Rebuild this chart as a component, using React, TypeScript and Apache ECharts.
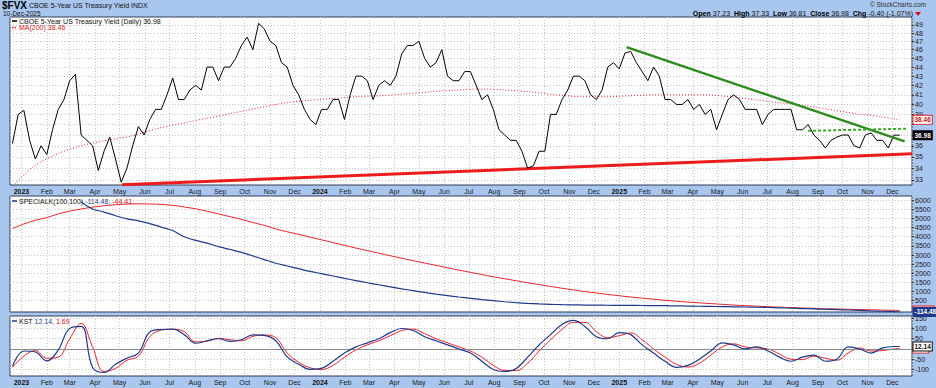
import React, { useEffect, useRef } from "react";
import * as echarts from "echarts";

const DAY = 86400000;
const WEEK_START = "2022-12-21"; // weekly (Wednesday) observations
const X_MIN = "2022-12-18";
const X_MAX = "2025-12-25";

// $FVX weekly readings (x10 yield)
const priceValues = [
  36.2, 39.0,
  39.4, 36.5, 34.8, 36.0, 35.2, 37.5, 39.5, 40.5, 42.5, 43.2, 37.0, 36.5, 36.0, 33.8, 35.5, 36.8, 34.8, 32.8, 34.0, 36.0, 37.8, 37.0, 38.5, 39.5, 39.5, 41.0, 42.8, 40.5, 40.5, 41.5, 42.0, 41.5, 44.0, 44.0, 42.5, 44.0, 44.0, 45.0, 46.5, 47.5, 46.0, 49.2, 48.5, 47.0, 46.5, 44.5, 44.0, 42.0, 41.0, 39.5, 38.5, 38.0,
  39.5, 39.5, 40.5, 40.5, 38.5, 41.0, 43.0, 43.0, 42.5, 40.5, 42.0, 42.5, 42.0, 43.0, 45.5, 46.5, 46.5, 47.0, 45.0, 44.0, 44.5, 46.0, 43.0, 42.5, 42.5, 43.5, 43.5, 42.0, 40.5, 41.0, 39.5, 37.5, 37.0, 36.5, 36.5, 35.5, 34.0, 34.2, 35.5, 35.5, 39.0, 39.0, 40.5, 41.5, 43.0, 43.0, 42.5, 41.0, 40.5, 41.5, 44.0, 44.5,
  43.8, 45.6, 45.8, 44.5, 43.5, 42.5, 44.0, 43.0, 40.5, 40.5, 40.0, 40.0, 40.5, 39.5, 40.0, 39.0, 39.5, 37.5, 39.0, 40.5, 41.0, 40.5, 39.5, 39.5, 39.5, 38.0, 39.0, 39.5, 39.5, 39.5, 39.5, 37.5, 37.5, 38.0, 37.0, 36.5, 35.8, 36.5, 36.8, 37.0, 37.0, 36.0, 35.8, 37.0, 37.2, 36.5, 36.5, 35.8, 37.0, 36.98,
];

const maDates = [
  "2022-12-19", "2023-01-15", "2023-02-15", "2023-03-15", "2023-04-15", "2023-05-15", "2023-06-15", "2023-07-15", "2023-08-15", "2023-09-15", "2023-10-15", "2023-11-15", "2023-12-15",
  "2024-01-15", "2024-02-15", "2024-03-15", "2024-04-15", "2024-05-15", "2024-06-15", "2024-07-15", "2024-08-15", "2024-09-15", "2024-10-15", "2024-11-15", "2024-12-15",
  "2025-01-15", "2025-02-15", "2025-03-15", "2025-04-15", "2025-05-15", "2025-06-15", "2025-07-15", "2025-08-15", "2025-09-15", "2025-10-15", "2025-11-15", "2025-12-10",
];
const maValues = [
  32.3, 34.1, 35.3, 36.0, 36.5, 36.9, 37.6, 38.1, 38.6, 39.1, 39.6, 40.1, 40.4,
  40.6, 40.8, 40.9, 41.1, 41.3, 41.5, 41.6, 41.5, 41.3, 41.0, 40.8, 40.8,
  40.9, 41.0, 41.0, 41.0, 40.8, 40.5, 40.2, 39.9, 39.5, 39.1, 38.8, 38.46,
];

const supportDates = ["2023-05-04", "2025-12-25"];
const supportValues = [32.6, 35.27];
const downtrendDates = ["2025-01-10", "2025-12-16"];
const downtrendValues = [46.3, 36.4];
const resistanceDates = ["2025-08-20", "2025-12-19"];
const resistanceValues = [37.4, 37.6];

// bi-weekly indicator readings (every other week + last day)
const specialK = [
  null, null, null, null, null, null, 5900, 5520, 5350, 5150, 4980, 4870, 4720, 4530, 4340, 4000, 3800, 3650, 3460, 3300,
  3140, 2950, 2750, 2550, 2400, 2250, 2100, 1980, 1850, 1720, 1600, 1480, 1370, 1260, 1150, 1050, 950, 860, 780, 700,
  630, 560, 500, 440, 390, 350, 320, 300, 280, 270, 260, 255, 250, 245, 240, 235, 230, 225, 215, 205,
  195, 185, 175, 165, 155, 140, 125, 110, 90, 70, 50, 30, 10, -10, -35, -60, -80, -100, -114.48,
];
const specialKSignal = [
  4450, 4700, 4900, 5050, 5250, 5400, 5520, 5620, 5700, 5750, 5790, 5800, 5790, 5770, 5720, 5630, 5530, 5400, 5250, 5100,
  4950, 4780, 4620, 4430, 4270, 4130, 3980, 3830, 3680, 3530, 3380, 3240, 3100, 2960, 2820, 2690, 2560, 2430, 2300, 2170,
  2050, 1930, 1810, 1700, 1590, 1480, 1380, 1280, 1180, 1090, 1000, 920, 840, 770, 700, 640, 580, 520, 470, 420,
  380, 340, 300, 260, 230, 200, 170, 145, 120, 100, 80, 60, 45, 30, 15, 0, -15, -30, -44.41,
];
const kst = [
  -85, -10, -15, -58, -5, 100, 110, -90, -115, -75, -45, -20, 83, 95, 97, 70, 28, 40, 50, 37,
  45, 69, 66, 40, -39, -75, -100, -95, -60, -20, 10, 30, 50, 80, 100, 90, 60, 40, 20, 0,
  -20, -60, -100, -110, -95, -40, 20, 70, 120, 140, 110, 60, 50, 80, 70, 20, -20, -60, -90, -80,
  -50, -10, 30, 20, 0, 10, -10, -40, -60, -40, -30, -60, -50, 10, 0, -20, 5, 12, 12.14,
];
const kstSignal = [
  -90, -35, -8, -45, -40, 50, 125, 10, -110, -95, -55, -35, 60, 92, 96, 85, 35, 38, 52, 45,
  40, 62, 68, 55, -20, -65, -92, -100, -80, -40, -5, 20, 40, 65, 90, 97, 75, 50, 30, 10,
  -10, -40, -80, -105, -105, -70, -10, 45, 95, 130, 130, 85, 55, 65, 78, 45, 0, -40, -75, -88,
  -70, -30, 10, 25, 10, 5, 0, -25, -50, -52, -35, -45, -55, -20, 5, -10, -8, 0, 1.69,
];

const priceTicks = [33, 34, 35, 36, 37, 38, 39, 40, 41, 42, 43, 44, 45, 46, 47, 48, 49];
const priceTickLabels = [33, 34, 35, 36, 39, 40, 41, 42, 43, 44, 45, 46, 47, 48, 49];
const specialKTicks = [500, 1000, 1500, 2000, 2500, 3000, 3500, 4000, 4500, 5000, 5500, 6000];
const kstTicks = [-100, -50, 0, 50, 100, 150];
const kstTickLabels = [-100, -50, 50, 100, 150];
const MONTHS = ["Jan", "Feb", "Mar", "Apr", "May", "Jun", "Jul", "Aug", "Sep", "Oct", "Nov", "Dec"];

const FONT = '"Liberation Sans", Arial, sans-serif';
const BG = "#a9c6ef";
const BORDER = "#2f3a55";
const GRIDLINE = "#c4c4c4";
const NAVY = "#1d3a8a";
const RED = "#e8232a";

function buildOption() {
  const t0 = Date.parse(WEEK_START + "T00:00:00Z");
  const weekly = priceValues.map((_, i) => t0 + i * 7 * DAY);
  const last = weekly.length - 1;
  const indDates = weekly.filter((_, i) => i % 2 === 0 || i === last);
  const xMax = Date.parse(X_MAX + "T00:00:00Z");
  const xMin = Date.parse(X_MIN + "T00:00:00Z");
  const L = Math.log;

  const grids = [
    { left: 10, right: 24, top: 17, height: 168 },
    { left: 10, right: 24, top: 196, height: 116 },
    { left: 10, right: 24, top: 316, height: 60 },
  ].map((g) => ({ ...g, show: true, backgroundColor: "#ffffff", borderColor: BORDER, borderWidth: 1, containLabel: false }));

  const xAxes = [0, 1, 2].map((i) => ({
    type: "time",
    gridIndex: i,
    min: xMin,
    max: xMax,
    splitNumber: 36,
    minInterval: 28 * DAY,
    maxInterval: 31 * DAY,
    axisLine: { show: false },
    axisTick: { show: false },
    axisLabel: {
      show: i !== 1,
      fontSize: 7,
      fontFamily: FONT,
      color: "#1a1a1a",
      margin: 3,
      showMinLabel: false,
      showMaxLabel: false,
      hideOverlap: false,
      formatter: (val: number) => {
        const d = new Date(val);
        const m = d.getMonth();
        return m === 0 ? `{y|${d.getFullYear()}}` : MONTHS[m];
      },
      rich: { y: { fontWeight: "bold", fontSize: 7, fontFamily: FONT, color: "#111" } },
    },
    splitLine: { show: true, lineStyle: { color: GRIDLINE, type: [1, 2], width: 1 } },
  }));

  const yCommon = {
    type: "value",
    position: "right",
    axisLine: { show: false },
    splitLine: { show: true, lineStyle: { color: GRIDLINE, type: [1, 2], width: 1 } },
  };
  const lab = { fontSize: 7, fontFamily: FONT, color: "#1a1a1a", margin: 3 };
  const tick = { show: true, inside: false, length: 2, lineStyle: { color: "#333" } };

  const yAxes = [
    {
      ...yCommon,
      gridIndex: 0,
      min: L(32.57),
      max: L(50.0),
      axisTick: { ...tick, customValues: priceTicks.map(L) },
      axisLabel: { ...lab, customValues: priceTickLabels.map(L), formatter: (v: number) => String(Math.round(Math.exp(v))) },
    },
    {
      ...yCommon,
      gridIndex: 1,
      min: -120,
      max: 6230,
      axisTick: { ...tick, customValues: specialKTicks },
      axisLabel: { ...lab, customValues: specialKTicks, formatter: (v: number) => String(v) },
    },
    {
      ...yCommon,
      gridIndex: 2,
      min: -132,
      max: 161,
      axisTick: { ...tick, customValues: kstTicks },
      axisLabel: { ...lab, customValues: kstTickLabels, formatter: (v: number) => String(v) },
    },
  ];

  const box = (y: number, text: string, bg: string, fg: string, border: string) => ({
    coord: [xMax, y],
    symbol: "rect",
    symbolSize: 1,
    itemStyle: { color: "rgba(0,0,0,0)" },
    label: {
      show: true,
      position: "right",
      distance: 1,
      formatter: text,
      backgroundColor: bg,
      color: fg,
      borderColor: border,
      borderWidth: 1,
      padding: [1, 1, 0, 1],
      fontSize: 6.5,
      fontFamily: FONT,
      fontWeight: "bold",
    },
  });
  const marks = (items: any[]) => ({ silent: true, animation: false, data: items });

  const line = (extra: any) => ({ type: "line", symbol: "none", showSymbol: false, animation: false, connectNulls: false, ...extra });

  const series = [
    line({
      name: "support",
      xAxisIndex: 0,
      yAxisIndex: 0,
      data: supportDates.map((d, i) => [Date.parse(d + "T00:00:00Z"), L(supportValues[i])]),
      lineStyle: { color: "#ec1c1c", width: 3 },
      z: 3,
    }),
    line({
      name: "MA200",
      xAxisIndex: 0,
      yAxisIndex: 0,
      smooth: 0.3,
      data: maDates.map((d, i) => [Date.parse(d + "T00:00:00Z"), L(maValues[i])]),
      lineStyle: { color: RED, width: 1, type: [1, 2] },
      markPoint: marks([box(L(38.46), "38.46", "#ffffff", "#c0141a", RED)]),
      z: 4,
    }),
    line({
      name: "price",
      xAxisIndex: 0,
      yAxisIndex: 0,
      data: weekly.map((t, i) => [t, L(priceValues[i])]),
      lineStyle: { color: "#000000", width: 1 },
      markPoint: marks([box(L(36.98), "36.98", "#000000", "#ffffff", "#000000")]),
      z: 5,
    }),
    line({
      name: "downtrend",
      xAxisIndex: 0,
      yAxisIndex: 0,
      data: downtrendDates.map((d, i) => [Date.parse(d + "T00:00:00Z"), L(downtrendValues[i])]),
      lineStyle: { color: "#2f8a1f", width: 2.5 },
      z: 6,
    }),
    line({
      name: "resistance",
      xAxisIndex: 0,
      yAxisIndex: 0,
      data: resistanceDates.map((d, i) => [Date.parse(d + "T00:00:00Z"), L(resistanceValues[i])]),
      lineStyle: { color: "#3aa52a", width: 2, type: [3, 2] },
      z: 6,
    }),
    line({
      name: "specialKSignal",
      xAxisIndex: 1,
      yAxisIndex: 1,
      smooth: 0.3,
      data: indDates.map((t, i) => [t, specialKSignal[i]]),
      lineStyle: { color: RED, width: 1 },
      markPoint: marks([box(-44.41, "-44.41", "#ffffff", "#c0141a", RED)]),
      z: 4,
    }),
    line({
      name: "specialK",
      xAxisIndex: 1,
      yAxisIndex: 1,
      smooth: 0.3,
      data: indDates.map((t, i) => [t, specialK[i]]),
      lineStyle: { color: NAVY, width: 1.2 },
      markPoint: marks([box(-114.48, "-114.48", NAVY, "#ffffff", NAVY)]),
      z: 5,
    }),
    line({
      name: "kstSignal",
      xAxisIndex: 2,
      yAxisIndex: 2,
      smooth: 0.4,
      data: indDates.map((t, i) => [t, kstSignal[i]]),
      lineStyle: { color: RED, width: 1 },
      markPoint: marks([box(1.69, "1.69", "#ffffff", "#c0141a", RED)]),
      markLine: {
        silent: true,
        symbol: "none",
        label: { show: false },
        lineStyle: { color: "#8a8a8a", type: "solid", width: 1 },
        data: [{ yAxis: 0 }],
      },
      z: 4,
    }),
    line({
      name: "kst",
      xAxisIndex: 2,
      yAxisIndex: 2,
      smooth: 0.4,
      data: indDates.map((t, i) => [t, kst[i]]),
      lineStyle: { color: NAVY, width: 1.2 },
      markPoint: marks([box(12.14, "12.14", "#ffffff", "#111111", "#111111")]),
      z: 5,
    }),
  ];

  const txt = (x: number, y: number, text: string, rich: any, extra: any = {}) => ({
    type: "text",
    x,
    y,
    z: 100,
    style: { text, rich, fontFamily: FONT, fontSize: 7, fill: "#111", verticalAlign: "middle", align: "left", ...extra },
  });
  const seg = (x1: number, y: number, x2: number, color: string, dash: any = null) => ({
    type: "line",
    z: 100,
    shape: { x1, y1: y, x2, y2: y },
    style: { stroke: color, lineWidth: 1.5, lineDash: dash },
  });

  const graphic = [
    txt(2, 5, "{b|$FVX} {n|CBOE 5-Year US Treasury Yield INDX}", {
      b: { fontFamily: FONT, fontSize: 10, fontWeight: "bold", fill: "#000" },
      n: { fontFamily: FONT, fontSize: 7, fill: "#111" },
    }),
    txt(3, 13.8, "10-Dec-2025", {}, { fontSize: 6.5 }),
    txt(926, 4.5, "© StockCharts.com", {}, { align: "right", fontSize: 6.5, fill: "#333" }),
    txt(
      913,
      13.5,
      "{b|Open} 37.23  {b|High} 37.33  {b|Low} 36.81  {b|Close} 36.98  {b|Chg} -0.40 (-1.07%)",
      { b: { fontFamily: FONT, fontSize: 7, fontWeight: "bold", fill: "#000" } },
      { align: "right" }
    ),
    {
      type: "polygon",
      z: 100,
      shape: { points: [[915, 12], [921, 12], [918, 16]] },
      style: { fill: "#d01010" },
    },
    seg(12, 21, 17, "#000"),
    txt(19, 21, "CBOE 5-Year US Treasury Yield (Daily) 36.98", {}),
    seg(12, 27.5, 17, RED, [1.5, 1]),
    txt(19, 27.5, "MA(200) 38.46", {}, { fill: "#d0141a" }),
    seg(12, 201, 17, NAVY),
    txt(19, 201, "SPECIALK(100,100) {bl|-114.48,} {rd|-44.41}", {
      bl: { fontFamily: FONT, fontSize: 7, fill: NAVY },
      rd: { fontFamily: FONT, fontSize: 7, fill: "#d0141a" },
    }),
    seg(12, 321, 17, NAVY),
    txt(19, 321, "KST {bl|12.14,} {rd|1.69}", {
      bl: { fontFamily: FONT, fontSize: 7, fill: NAVY },
      rd: { fontFamily: FONT, fontSize: 7, fill: "#d0141a" },
    }),
  ];

  return {
    animation: false,
    backgroundColor: BG,
    textStyle: { fontFamily: FONT },
    grid: grids,
    xAxis: xAxes,
    yAxis: yAxes,
    series,
    graphic,
  };
}

export default function App() {
  const ref = useRef<HTMLDivElement>(null);
  useEffect(() => {
    document.body.style.margin = "0";
    const chart = echarts.init(ref.current as HTMLDivElement, undefined, { renderer: "svg" });
    chart.setOption(buildOption() as any);
    return () => chart.dispose();
  }, []);
  return <div ref={ref} style={{ width: 936, height: 388, position: "absolute", left: 0, top: 0 }} />;
}
